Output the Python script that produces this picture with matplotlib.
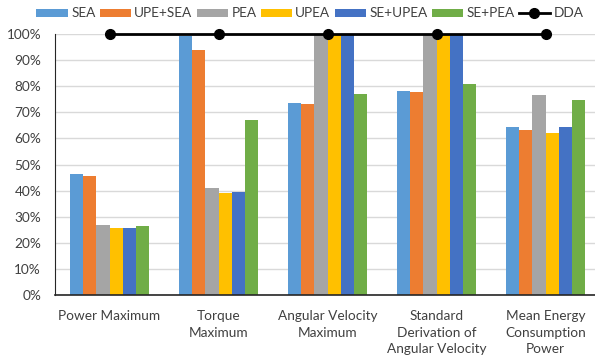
import matplotlib.pyplot as plt
import numpy as np

# Normalised metrics per actuator configuration
categories = ['Power Maximum', 'Torque\nMaximum', 'Angular Velocity\nMaximum',
              'Standard\nDerivation of\nAngular Velocity', 'Mean Energy\nConsumption\nPower']
series = ['SEA', 'UPE+SEA', 'PEA', 'UPEA', 'SE+UPEA', 'SE+PEA']
sea = [46.4, 99.2, 73.7, 78.1, 64.4]
upe_sea = [45.7, 94.0, 73.3, 77.9, 63.4]
pea = [26.9, 41.1, 100.0, 100.0, 76.5]
upea = [25.7, 39.1, 100.0, 100.0, 62.2]
se_upea = [25.7, 39.4, 100.0, 100.0, 64.5]
se_pea = [26.6, 67.2, 77.2, 80.7, 74.6]
dda = [100, 100, 100, 100, 100]

values = [sea, upe_sea, pea, upea, se_upea, se_pea]
colors = ['#5B9BD5', '#ED7D31', '#A5A5A5', '#FFC000', '#4472C4', '#70AD47']

plt.rcParams['font.family'] = ['Lato', 'DejaVu Sans']
fs = 9.8

fig = plt.figure(figsize=(5.95, 3.61), dpi=100)
ax = fig.add_axes([55 / 595, 1 - 295 / 361, 545 / 595, 261 / 361])

x = np.arange(len(categories))
width = 0.122
handles = []
for i, (name, vals) in enumerate(zip(series, values)):
    handles.append(ax.bar(x + (i - 2.5) * width, vals, width, color=colors[i], label=name, zorder=2))

line, = ax.plot(x, dda, color='black', lw=2, marker='o', ms=7, label='DDA', zorder=3, clip_on=False)
handles.append(line)

ax.set_xlim(-0.5, len(categories) - 0.5)
ax.set_ylim(0, 100)
ax.set_yticks(np.arange(0, 101, 10))
ax.set_yticklabels([f'{v}%' for v in range(0, 101, 10)], fontsize=fs, color='#404040')
ax.set_xticks(x)
ax.set_xticklabels(categories, fontsize=fs, color='#404040', linespacing=1.45)
ax.tick_params(axis='both', length=0)
ax.tick_params(axis='x', pad=11)
ax.tick_params(axis='y', pad=10)

ax.yaxis.grid(True, color='#d9d9d9', lw=1, zorder=0)
ax.set_axisbelow(True)
for s in ['top', 'right']:
    ax.spines[s].set_visible(False)
ax.spines['left'].set_color('#262626')
ax.spines['bottom'].set_color('#262626')
ax.spines['bottom'].set_linewidth(1.2)

fig.legend(handles=handles, labels=series + ['DDA'], loc='upper left',
           bbox_to_anchor=(29 / 595, 1.0), ncol=7, frameon=False,
           fontsize=fs, handlelength=2.3, handleheight=0.5, handletextpad=0.25,
           columnspacing=0.3, borderaxespad=0.15, labelcolor='#404040')

fig.savefig('out.png', dpi=100)
